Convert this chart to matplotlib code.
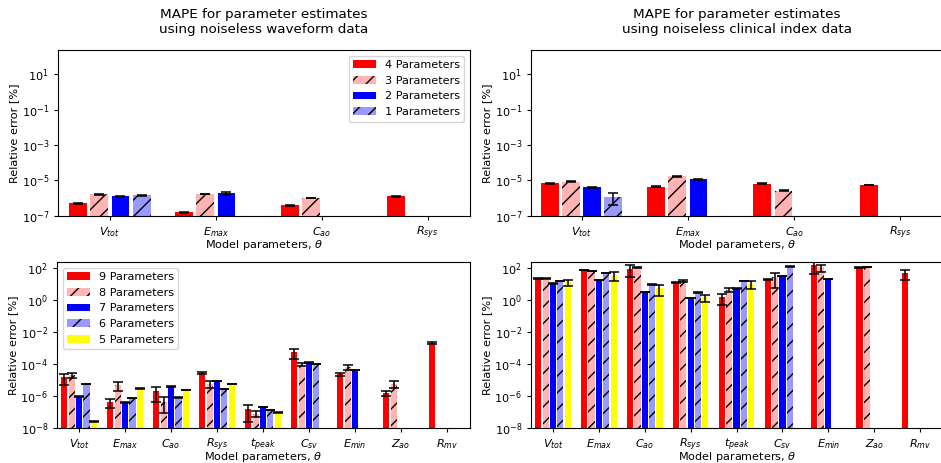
import numpy as np
import matplotlib
matplotlib.use("Agg")
import matplotlib.pyplot as plt
from matplotlib.patches import Patch
from matplotlib.ticker import FixedLocator, NullLocator, LogFormatterSciNotation

nan = np.nan

# Parameter names
params_small = ["$V_{tot}$", "$E_{max}$", "$C_{ao}$", "$R_{sys}$"]
params_large = ["$V_{tot}$", "$E_{max}$", "$C_{ao}$", "$R_{sys}$", "$t_{peak}$",
                "$C_{sv}$", "$E_{min}$", "$Z_{ao}$", "$R_{mv}$"]

# Waveform data, 4..1 estimated parameters (MAPE %, error bar)
wf4 = [5.0e-7, 1.56e-7, 3.9e-7, 1.25e-6]
wf4_err = [2e-8, 8e-9, 1.5e-8, 5e-8]
wf3 = [1.6e-6, 1.7e-6, 1.0e-6, nan]
wf3_err = [5e-8, 6e-8, 4e-8, nan]
wf2 = [1.3e-6, 1.85e-6, nan, nan]
wf2_err = [8e-8, 3e-7, nan, nan]
wf1 = [1.43e-6, nan, nan, nan]
wf1_err = [5e-8, nan, nan, nan]

# Clinical index data, 4..1 estimated parameters
ci4 = [6.8e-6, 4.4e-6, 6.5e-6, 5.5e-6]
ci4_err = [2e-7, 2e-7, 2e-7, 2e-7]
ci3 = [8.4e-6, 1.7e-5, 2.6e-6, nan]
ci3_err = [3e-7, 5e-7, 1e-7, nan]
ci2 = [4.0e-6, 1.15e-5, nan, nan]
ci2_err = [1e-7, 3e-7, nan, nan]
ci1 = [1.19e-6, nan, nan, nan]
ci1_err = [8e-7, nan, nan, nan]

# Waveform data, 9..5 estimated parameters
wf9 = [1.5e-5, 4.2e-7, 2.0e-6, 2.7e-5, 1.45e-7, 5.5e-4, 2.3e-5, 1.6e-6, 2.1e-3]
wf9_err = [1.0e-5, 2.5e-7, 1.6e-6, 4e-6, 1.2e-7, 3.5e-4, 5e-6, 6e-7, 2.5e-4]
wf8 = [2.1e-5, 5e-6, 4.5e-7, 5.8e-6, 7.8e-8, 9.3e-5, 6.4e-5, 5.8e-6, nan]
wf8_err = [7e-6, 3e-6, 3.6e-7, 2.5e-6, 3e-8, 1.5e-5, 2.4e-5, 2.5e-6, nan]
wf7 = [9.3e-7, 4e-7, 4e-6, 8.5e-6, 2.1e-7, 1.24e-4, 4.3e-5, nan, nan]
wf7_err = [2e-8, 1e-8, 1e-7, 3e-7, 5e-9, 4e-6, 1e-6, nan, nan]
wf6 = [5.8e-6, 7.4e-7, 8.1e-7, 2.8e-6, 1.4e-7, 9.8e-5, nan, nan, nan]
wf6_err = [1e-7, 1e-8, 2e-8, 5e-8, 3e-9, 3e-6, nan, nan, nan]
wf5 = [2.6e-8, 3e-6, 2.3e-6, 5.8e-6, 9.4e-8, nan, nan, nan, nan]
wf5_err = [1e-9, 5e-8, 5e-8, 1e-7, 2e-9, nan, nan, nan, nan]

# Clinical index data, 9..5 estimated parameters
ci9 = [23, 75, 87, 12.9, 1.48, 20.6, 160, 110, 49]
ci9_err = [1.0, 3, 60, 1.5, 1.0, 1.5, 115, 4, 31]
ci8 = [23, 68, 110, 16, 4.4, 28, 110, 120, nan]
ci8_err = [1, 2, 4, 2, 1, 22, 55, 4, nan]
ci7 = [11, 18, 3.3, 1.35, 5.4, 31, 20.5, nan, nan]
ci7_err = [0.3, 0.5, 0.1, 0.05, 0.2, 1, 0.5, nan, nan]
ci6 = [15, 49, 9.6, 3.0, 15, 126, nan, nan, nan]
ci6_err = [0.5, 1.5, 0.3, 0.1, 0.5, 4, nan, nan, nan]
ci5 = [13, 36, 5.4, 1.5, 10, nan, nan, nan, nan]
ci5_err = [5.5, 20, 3.5, 0.7, 5, nan, nan, nan, nan]

RED = (1.0, 0.0, 0.0)
PINK = (1.0, 0.70, 0.70)
BLUE = (0.0, 0.0, 1.0)
LBLUE = (0.60, 0.60, 1.0)
YELLOW = (1.0, 1.0, 0.0)

styles_small = [("4 Parameters", RED, None), ("3 Parameters", PINK, "//"),
                ("2 Parameters", BLUE, None), ("1 Parameters", LBLUE, "//")]
styles_large = [("9 Parameters", RED, None), ("8 Parameters", PINK, "//"),
                ("7 Parameters", BLUE, None), ("6 Parameters", LBLUE, "//"),
                ("5 Parameters", YELLOW, None)]

BASE = 8.1
plt.rcParams["hatch.linewidth"] = 1.0
plt.rcParams["font.size"] = BASE
plt.rcParams["axes.linewidth"] = 0.8

W, H = 941, 463
fig = plt.figure(figsize=(W / 100, H / 100), dpi=100)


def px_axes(left, top, right, bottom):
    return fig.add_axes([left / W, 1 - bottom / H, (right - left) / W, (bottom - top) / H])


def grouped(ax, labels, series, errs, styles, ylo, yhi, xlim):
    n = len(series)
    step = 0.8 / n
    x = np.arange(len(labels))
    for i, (vals, err, (lab, col, hatch)) in enumerate(zip(series, errs, styles)):
        vals = np.asarray(vals, float)
        err = np.asarray(err, float)
        ok = ~np.isnan(vals)
        pos = x + (i - (n - 1) / 2) * step
        ax.bar(pos[ok], vals[ok], width=step * 0.84, color=col, hatch=hatch,
               edgecolor="black", linewidth=0, label=lab)
        ax.errorbar(pos[ok], vals[ok], yerr=err[ok], fmt="none", ecolor="black",
                    elinewidth=1.1, capsize=3.3, capthick=1.1)
    ax.set_yscale("log")
    ax.set_ylim(ylo, yhi)
    ax.set_xlim(*xlim)
    ax.set_xticks(x)
    ax.set_xticklabels(labels, fontsize=BASE)
    ax.set_xlabel(r"Model parameters, $\theta$", fontsize=BASE, labelpad=-2.5)
    ax.set_ylabel("Relative error [%]", fontsize=BASE, labelpad=1.5)
    lo = int(np.log10(ylo))
    ax.yaxis.set_major_locator(FixedLocator([10.0 ** k for k in range(lo, 3, 2)]))
    ax.yaxis.set_major_formatter(LogFormatterSciNotation())
    ax.yaxis.set_minor_locator(NullLocator())
    ax.tick_params(labelsize=BASE, length=3, width=0.8)


def legend(ax, styles, loc):
    handles = [Patch(facecolor=c, hatch=h, edgecolor="black", linewidth=0, label=l)
               for l, c, h in styles]
    ax.legend(handles=handles, loc=loc, fontsize=BASE, handlelength=2.0)


TOP = 10 ** 2.38
TITLE = 9.7

ax1 = px_axes(58, 50, 470, 215.7)
grouped(ax1, params_small, [wf4, wf3, wf2, wf1], [wf4_err, wf3_err, wf2_err, wf1_err],
        styles_small, 1e-7, TOP, (-0.49, 3.40))
ax1.set_title("MAPE for parameter estimates\nusing noiseless waveform data", fontsize=TITLE, pad=12)
legend(ax1, styles_small, "upper right")

ax2 = px_axes(531, 50, 943, 215.7)
grouped(ax2, params_small, [ci4, ci3, ci2, ci1], [ci4_err, ci3_err, ci2_err, ci1_err],
        styles_small, 1e-7, TOP, (-0.475, 3.40))
ax2.set_title("MAPE for parameter estimates\nusing noiseless clinical index data", fontsize=TITLE, pad=12)

ax3 = px_axes(57, 262, 470, 428)
grouped(ax3, params_large, [wf9, wf8, wf7, wf6, wf5],
        [wf9_err, wf8_err, wf7_err, wf6_err, wf5_err], styles_large, 1e-8, TOP, (-0.48, 8.5))
legend(ax3, styles_large, "upper left")

ax4 = px_axes(531, 262, 943, 428)
grouped(ax4, params_large, [ci9, ci8, ci7, ci6, ci5],
        [ci9_err, ci8_err, ci7_err, ci6_err, ci5_err], styles_large, 1e-8, TOP, (-0.48, 8.5))

fig.savefig("out.png", dpi=100)
